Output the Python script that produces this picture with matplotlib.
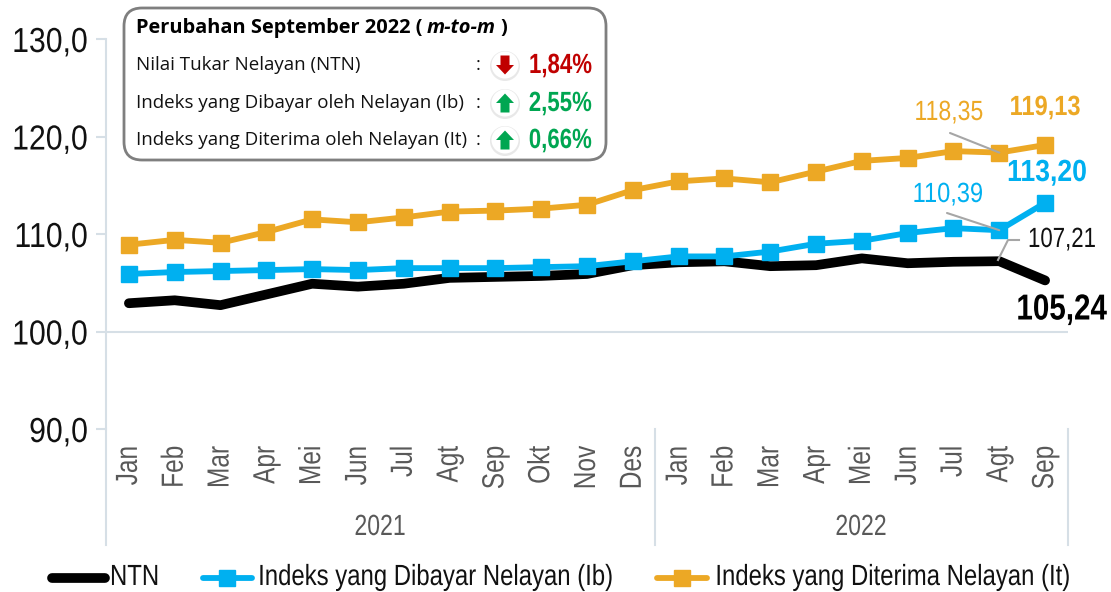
import matplotlib
matplotlib.use('Agg')
import matplotlib.pyplot as plt
from matplotlib.patches import FancyBboxPatch, Circle, Polygon
from matplotlib.patheffects import AbstractPathEffect
from matplotlib.transforms import Affine2D

bulan = ['Jan', 'Feb', 'Mar', 'Apr', 'Mei', 'Jun', 'Jul', 'Agt', 'Sep', 'Okt', 'Nov', 'Des',
         'Jan', 'Feb', 'Mar', 'Apr', 'Mei', 'Jun', 'Jul', 'Agt', 'Sep']
ntn = [102.9, 103.2, 102.7, 103.8, 104.9, 104.6, 104.9, 105.5, 105.6, 105.7, 105.9, 106.8,
       107.1, 107.2, 106.7, 106.8, 107.5, 107.0, 107.15, 107.21, 105.24]
ib = [105.9, 106.1, 106.2, 106.3, 106.4, 106.3, 106.5, 106.5, 106.5, 106.6, 106.7, 107.2,
      107.7, 107.7, 108.2, 109.0, 109.3, 110.1, 110.6, 110.39, 113.20]
it = [108.9, 109.4, 109.1, 110.2, 111.5, 111.2, 111.7, 112.3, 112.4, 112.6, 113.0, 114.5,
      115.4, 115.7, 115.3, 116.4, 117.5, 117.8, 118.5, 118.35, 119.13]
y_ticks = [90, 100, 110, 120, 130]

BIRU = '#00b0f0'
ORANYE = '#eca825'
GARIS = '#d6dfe6'
HIJAU = '#00a651'
MERAH = '#c00000'
ARIAL = 'Liberation Sans'
PANEL = 'Open Sans'

W, H = 1111, 592


class Sempit(AbstractPathEffect):
    # teks di gambar asli sempit, tidak ada font condensed jadi dipadatkan di sekitar titik jangkar
    def __init__(self, sx=1.0, sy=1.0, x0=0, y0=0):
        super().__init__()
        self.sx, self.sy, self.x0, self.y0 = sx, sy, x0, y0

    def draw_path(self, renderer, gc, tpath, affine, rgbFace=None):
        t = affine + Affine2D().translate(-self.x0, -self.y0).scale(self.sx, self.sy).translate(self.x0, self.y0)
        renderer.draw_path(gc, tpath, t, rgbFace)


fig = plt.figure(figsize=(W / 100, H / 100), dpi=100)
fig.set_facecolor('white')

# axes utama: x 106-1068, y 39-429 piksel
ax = fig.add_axes([106 / W, 1 - 429 / H, 962 / W, 390 / H])
ax.set_xlim(-0.5, 20.5)
ax.set_ylim(90, 130)
for s in ['top', 'right', 'bottom']:
    ax.spines[s].set_visible(False)
ax.spines['left'].set_color(GARIS)
ax.spines['left'].set_linewidth(1.5)

x = list(range(len(bulan)))
ax.axhline(100, color=GARIS, lw=1.5, zorder=1)
ax.plot(x, ntn, color='black', lw=7, solid_capstyle='round', zorder=3)
ax.plot(x, ib, color=BIRU, lw=4.2, marker='s', ms=12, zorder=4)
ax.plot(x, it, color=ORANYE, lw=4.2, marker='s', ms=12, zorder=4)

ax.set_yticks(y_ticks)
ax.set_yticklabels([f'{v},0' for v in y_ticks], family=ARIAL, fontsize=25, color='#111111')
ax.tick_params(axis='y', length=7, width=1.5, color=GARIS, pad=6)
for lab in ax.get_yticklabels():
    lab.set_path_effects([Sempit(sx=0.87, x0=88)])

ax.set_xticks(x)
ax.set_xticklabels(bulan, rotation=90, family=ARIAL, fontsize=22, color='#595959', va='top')
ax.tick_params(axis='x', length=0, pad=12)
for lab in ax.get_xticklabels():
    lab.set_path_effects([Sempit(sy=0.8, y0=H - 447)])

# overlay dalam koordinat piksel
ov = fig.add_axes([0, 0, 1, 1], zorder=5)
ov.set_xlim(0, W)
ov.set_ylim(H, 0)
ov.axis('off')
ov.patch.set_alpha(0)


def teks(px, py, s, sx, ha='center', **kw):
    t = ov.text(px, py, s, ha=ha, va='center', **kw)
    t.set_path_effects([Sempit(sx=sx, x0=px)])
    return t


ov.plot([106, 106], [429, 545], color=GARIS, lw=1.5)
ov.plot([655, 655], [429, 545], color=GARIS, lw=1.5)
ov.plot([1068, 1068], [429, 545], color=GARIS, lw=1.5)
teks(380, 527, '2021', 0.79, family=ARIAL, fontsize=21, color='#595959')
teks(861, 527, '2022', 0.79, family=ARIAL, fontsize=21, color='#595959')

# garis penunjuk
ax.annotate('', xy=(19, it[19]), xytext=(950, 133), textcoords=ov.transData,
            arrowprops=dict(arrowstyle='-', color='#a6a6a6', lw=1.5, shrinkA=0, shrinkB=0), zorder=6)
ax.annotate('', xy=(19, ib[19]), xytext=(947, 213), textcoords=ov.transData,
            arrowprops=dict(arrowstyle='-', color='#a6a6a6', lw=1.5, shrinkA=0, shrinkB=0), zorder=6)
ov.plot([998, 1008, 1019], [260, 240, 240], color='#a6a6a6', lw=1.5)

teks(949, 113, '118,35', 0.83, family=ARIAL, fontsize=20, color=ORANYE)
teks(1045, 108, '119,13', 0.85, family=ARIAL, fontsize=20, color=ORANYE, weight='bold')
teks(948, 195, '110,39', 0.85, family=ARIAL, fontsize=20, color=BIRU)
teks(1047, 173, '113,20', 0.87, family=ARIAL, fontsize=22, color=BIRU, weight='bold')
teks(1096, 240, '107,21', 0.8, ha='right', family=ARIAL, fontsize=20, color='#111111')
teks(1107, 310, '105,24', 0.82, ha='right', family=ARIAL, fontsize=26, color='black', weight='bold')

# kotak perubahan
ov.add_patch(FancyBboxPatch((138, 22), 454, 124, boxstyle='round,pad=14,rounding_size=18',
                            fc='white', ec='#7f7f7f', lw=2))
ov.text(136, 28, 'Perubahan September 2022 (', family=PANEL, weight='bold', fontsize=14.4, va='center')
ov.text(427, 28, 'm-to-m', family=PANEL, weight='bold', style='italic', fontsize=14.4, va='center')
ov.text(500, 28, ')', family=PANEL, weight='bold', fontsize=14.4, va='center')

baris = ['Nilai Tukar Nelayan (NTN)', 'Indeks yang Dibayar oleh Nelayan (Ib)',
         'Indeks yang Diterima oleh Nelayan (It)']
persen = ['1,84%', '2,55%', '0,66%']
warna = [MERAH, HIJAU, HIJAU]
arah = [1, -1, -1]
for yy, t, p, c, a in zip([65, 103, 140], baris, persen, warna, arah):
    ov.text(136, yy, t, family=PANEL, fontsize=13.5, color='#111111', va='center')
    ov.text(478, yy, ':', family=PANEL, fontsize=13.5, color='#111111', va='center', ha='center')
    ov.add_patch(Circle((505, yy + 1), 15, fc='#e8e8e8', ec='none'))
    ov.add_patch(Circle((505, yy), 13.5, fc='white', ec='none'))
    ov.add_patch(Polygon([(505, yy + 9.5 * a), (496, yy), (500.5, yy), (500.5, yy - 9.5 * a),
                          (509.5, yy - 9.5 * a), (509.5, yy), (514, yy)], fc=c, ec='none'))
    teks(592, yy + 1, p, 0.8, ha='right', family=ARIAL, weight='bold', fontsize=20, color=c)

# legenda
ov.plot([52, 105], [578, 578], color='black', lw=7, solid_capstyle='round')
ov.plot([203, 252], [578, 578], color=BIRU, lw=4.2, solid_capstyle='round')
ov.plot([227], [578], color=BIRU, marker='s', ms=12)
ov.plot([657, 707], [578, 578], color=ORANYE, lw=4.2, solid_capstyle='round')
ov.plot([682], [578], color=ORANYE, marker='s', ms=12)
teks(110, 577, 'NTN', 0.82, ha='left', family=ARIAL, fontsize=21, color='#111111')
teks(613, 577, 'Indeks yang Dibayar Nelayan (Ib)', 0.82, ha='right', family=ARIAL, fontsize=21, color='#111111')
teks(1070, 577, 'Indeks yang Diterima Nelayan (It)', 0.82, ha='right', family=ARIAL, fontsize=21, color='#111111')

plt.savefig('out.png', dpi=100)
